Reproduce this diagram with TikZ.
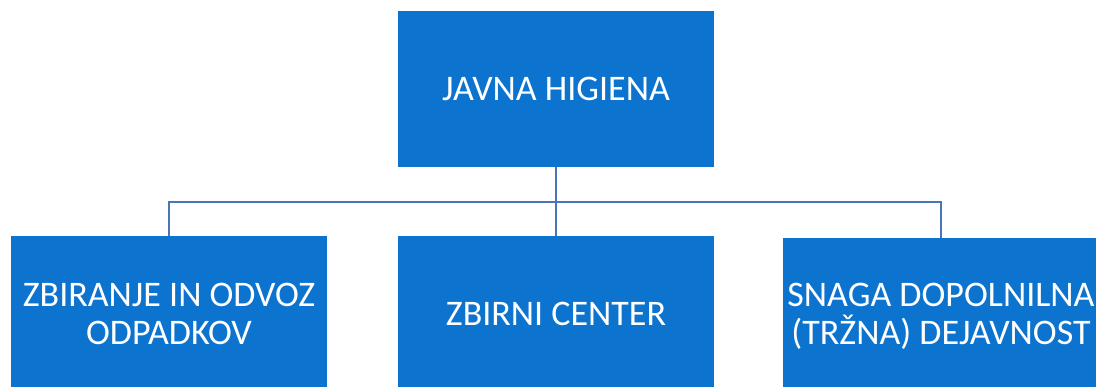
\documentclass[tikz,border=0pt]{standalone}
\usepackage{fontspec}
\setmainfont{Carlito}
\definecolor{boxblue}{RGB}{12,115,206}
\definecolor{linkblue}{RGB}{72,118,184}
\tikzset{
    unitbox/.style={fill=boxblue, draw=none, minimum width=316pt, minimum height=156pt,
        text=white, align=center, inner sep=0pt, font=\fontsize{36}{38}\selectfont},
    link/.style={draw=linkblue, line width=2pt}
}
\begin{document}
\begin{tikzpicture}[x=1pt,y=-1pt]
        \useasboundingbox (0,0) rectangle (1096,386);
        \clip (0,0) rectangle (1096,386);

        \node[unitbox] (higiena) at (556, 89) {JAVNA HIGIENA};

        \node[unitbox] (odvoz) at (169, 314) {ZBIRANJE IN ODVOZ\\ODPADKOV};
        \node[unitbox] (center) at (556, 314) {ZBIRNI CENTER};
        \node[unitbox] (snaga) at (941, 316) {SNAGA DOPOLNILNA\\(TRŽNA) DEJAVNOST};

        \coordinate (bus) at (556, 202);

        \draw[link] (higiena.south) -- (center.north);
        \draw[link] (odvoz.north) |- (bus) -| (snaga.north);
    \end{tikzpicture}
\end{document}
